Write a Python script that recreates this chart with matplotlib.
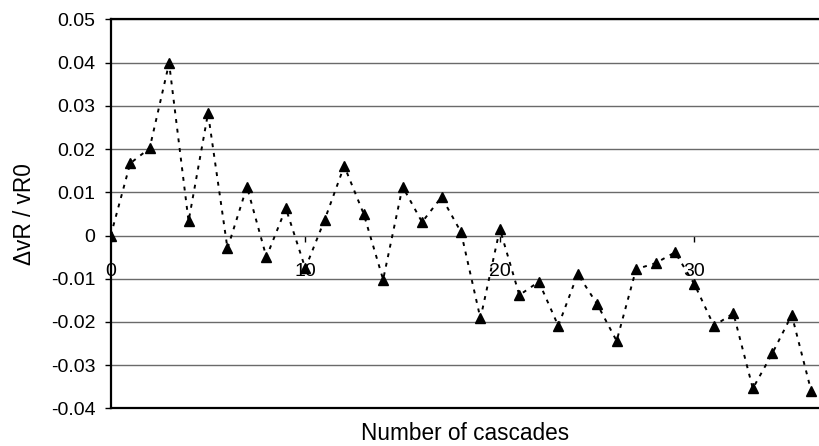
import numpy as np
import matplotlib.pyplot as plt

plt.rcParams['font.family'] = ['Liberation Sans', 'DejaVu Sans']
plt.rcParams['axes.unicode_minus'] = False

# relative change of vR after each cascade
cascades = list(range(37))
dvr = [0.0, 0.0167, 0.0202, 0.0399, 0.0033, 0.0283, -0.0030, 0.0113, -0.0050,
       0.0063, -0.0076, 0.0037, 0.0161, 0.0050, -0.0102, 0.0113, 0.0031,
       0.0089, 0.0008, -0.0192, 0.0015, -0.0138, -0.0107, -0.0209, -0.0089,
       -0.0159, -0.0244, -0.0078, -0.0064, -0.0039, -0.0113, -0.0209, -0.0180,
       -0.0354, -0.0273, -0.0184, -0.0360]

y_ticks = [0.05, 0.04, 0.03, 0.02, 0.01, 0, -0.01, -0.02, -0.03, -0.04]
y_labels = ['0.05', '0.04', '0.03', '0.02', '0.01', '0',
            '-0.01', '-0.02', '-0.03', '-0.04']
x_ticks = [0, 10, 20, 30]

fig = plt.figure(figsize=(8.19, 4.46), dpi=100)
ax = fig.add_axes([0.1352, 0.0845, 0.8648, 0.8718])

ax.plot(cascades, dvr, color='black', linestyle=(0, (2, 3)), linewidth=1.4,
        marker='^', markersize=6.5, markerfacecolor='black',
        markeredgecolor='black', zorder=3)

ax.set_xlim(0, 36.4)
ax.set_ylim(-0.04, 0.05)
ax.set_yticks(y_ticks)
ax.set_yticklabels(y_labels)
ax.yaxis.grid(True, color='#6a6a6a', linewidth=1.0)
ax.set_axisbelow(True)
ax.tick_params(axis='y', direction='out', length=4, width=1, pad=7,
               labelsize=14, colors='black')
ax.tick_params(axis='x', bottom=False, labelbottom=False)

for side in ['left', 'bottom', 'top']:
    ax.spines[side].set_color('black')
    ax.spines[side].set_linewidth(1.6)
ax.spines['right'].set_visible(False)

# category axis crosses the value axis at zero
zero_pos = (0 - (-0.04)) / (0.05 - (-0.04))
sec = ax.secondary_xaxis(zero_pos)
sec.set_xticks(x_ticks)
sec.set_xticklabels([str(t) for t in x_ticks])
sec.spines['bottom'].set_visible(False)
sec.tick_params(axis='x', direction='out', length=4, width=1, pad=16,
                labelsize=14, colors='black')

ax.set_xlabel('Number of cascades', fontsize=16.3, labelpad=10)
ax.set_ylabel('\u0394vR / vR0', fontsize=16.3, labelpad=11)

fig.savefig('out.png', dpi=100)
